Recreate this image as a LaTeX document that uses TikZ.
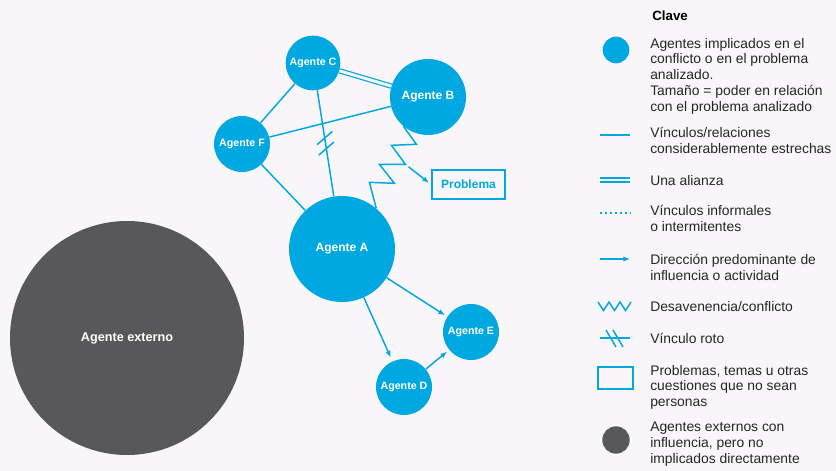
\documentclass[tikz,border=0pt]{standalone}
\usepackage{fontspec}
\setmainfont{Liberation Sans}
\usetikzlibrary{arrows.meta}
\usetikzlibrary{decorations.markings}

\definecolor{agblue}{HTML}{00A8E1}
\definecolor{aggray}{HTML}{58585A}
\definecolor{paper}{HTML}{F9F6F9}

\begin{document}
\begin{tikzpicture}[x=0.75pt,y=-0.75pt,
  agent/.style={circle,fill=agblue,text=white,inner sep=0pt,
    font=\bfseries\fontsize{8}{9}\selectfont},
  bigagent/.style={agent,font=\bfseries\fontsize{9}{10}\selectfont},
  link/.style={draw=agblue,line width=1.1pt},
  arr/.style={link,-{Latex[length=5pt,width=4pt]}},
  broken/.style={postaction={decorate},decoration={markings,
    mark=at position 0.5 with {
      \draw[agblue,line width=1.1pt] (0pt,-6.4pt) -- (-8pt,6.4pt);
      \draw[agblue,line width=1.1pt] (8pt,-6.4pt) -- (0pt,6.4pt);}}},
  keytext/.style={anchor=base west,align=left,inner sep=0pt,text=black!85,
    font=\fontsize{10.4}{11.8}\selectfont}]
\fill[paper] (0,0) rectangle (836,471);
\useasboundingbox (0,0) rectangle (836,471);

% agentes
\node[agent,minimum size=41pt] (agC) at (313,63) {Agente C};
\node[bigagent,minimum size=57pt] (agB) at (428,97) {Agente B};
\node[agent,minimum size=42pt] (agF) at (242,144) {Agente F};
\node[bigagent,minimum size=79.5pt] (agA) at (342,249) {Agente A};
\node[agent,minimum size=42pt] (agE) at (471,332) {Agente E};
\node[agent,minimum size=42pt] (agD) at (404,387) {Agente D};
\node[circle,fill=aggray,text=white,inner sep=0pt,minimum size=175.5pt,
  font=\bfseries\fontsize{9.5}{11}\selectfont] (agX) at (127,338) {Agente externo};
\node[draw=agblue,line width=1.1pt,text=agblue,inner sep=0pt,
  minimum width=55pt,minimum height=21.5pt,
  font=\bfseries\fontsize{9}{10}\selectfont] (prob) at (468.5,184.5) {Problema};

% vinculos
\draw[link] (agC) -- (agF);
\draw[link] (agF) -- (agB);
\draw[link] (agF) -- (agA);
\draw[link,broken] (agC) -- (agA);
\draw[draw=agblue,double=paper,line width=0.9pt,double distance=2.2pt] (agC) -- (agB);
\draw[link,line join=miter] (agB.230) -- ++(13,18) -- ++(-25,1) -- ++(14,19)
  coordinate (zz) -- ++(-26,0) -- ++(15,19) -- ++(-25,-1) -- (agA.50);
\draw[arr,shorten <=3pt,shorten >=2pt] (zz) -- (prob.west);
\draw[arr,shorten >=2pt] (agA) -- (agE);
\draw[arr,shorten >=3pt] (agA) -- (agD);
\draw[arr,shorten >=2pt] (agD) -- (agE);

% clave
\node[anchor=base west,inner sep=0pt,text=black,
  font=\bfseries\fontsize{10}{12}\selectfont] (clave) at (652,21) {Clave};
\node[circle,fill=agblue,inner sep=0pt,minimum size=20pt] (kA) at (616,50) {};
\node[keytext] (tA) at (650,111) {Agentes implicados en el\\conflicto o en el problema\\analizado.\\Tamaño = poder en relación\\con el problema analizado};
\coordinate (kL1) at (600,135); \coordinate (kL2) at (630,135);
\draw[link] (kL1) -- (kL2);
\node[keytext] (tL) at (650,153.3) {Vínculos/relaciones\\considerablemente estrechas};
\coordinate (kU1) at (600,180); \coordinate (kU2) at (630,180);
\draw[draw=agblue,double=paper,line width=0.9pt,double distance=2.2pt] (kU1) -- (kU2);
\node[keytext] (tU) at (650,185) {Una alianza};
\coordinate (kI1) at (600,213); \coordinate (kI2) at (631,213);
\draw[link,dash pattern=on 1.5pt off 2.2pt] (kI1) -- (kI2);
\node[keytext] (tI) at (650,231.7) {Vínculos informales\\o intermitentes};
\coordinate (kD1) at (600,259); \coordinate (kD2) at (630,259);
\draw[arr] (kD1) -- (kD2);
\node[keytext] (tD) at (650,280) {Dirección predominante de\\influencia o actividad};
\coordinate (kZ1) at (598,302);
\draw[link,line join=miter] (kZ1) -- ++(5.5,8.5) -- ++(5.5,-8.5) -- ++(5.5,8.5)
  -- ++(5.5,-8.5) -- ++(5.5,8.5) -- ++(5.5,-8.5);
\node[keytext] (tZ) at (650,311.7) {Desavenencia/conflicto};
\coordinate (kR1) at (600,338); \coordinate (kR2) at (630,338);
\draw[link] (kR1) -- (kR2);
\draw[link] (606,330) -- (616,347);
\draw[link] (613,330) -- (623,347);
\node[keytext] (tR) at (650,343) {Vínculo roto};
\node[draw=agblue,line width=1.1pt,inner sep=0pt,minimum width=26.5pt,
  minimum height=16.5pt] (kP) at (615.5,378) {};
\node[keytext] (tP) at (650,406.7) {Problemas, temas u otras\\cuestiones que no sean\\personas};
\node[circle,fill=aggray,inner sep=0pt,minimum size=20.5pt] (kX) at (616,440) {};
\node[keytext] (tX) at (650,463) {Agentes externos con\\influencia, pero no\\implicados directamente};
\end{tikzpicture}
\end{document}
